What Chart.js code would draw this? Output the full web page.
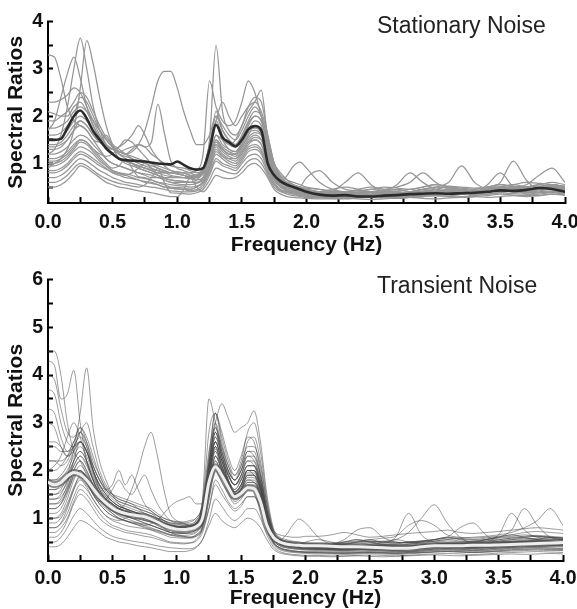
<!DOCTYPE html>
<html><head><meta charset="utf-8">
<script src="https://cdn.jsdelivr.net/npm/chart.js@4.4.0/dist/chart.umd.min.js"></script>
<style>
html,body{margin:0;padding:0;background:#fff;}
#wrap{position:relative;width:577px;height:609px;overflow:hidden;background:#fff;}
#c1{position:absolute;left:0;top:0;}
#c2{position:absolute;left:0;top:258px;}
.ttl{position:absolute;font-family:"Liberation Sans",Arial,sans-serif;font-size:23px;color:#222;line-height:23px;white-space:nowrap;}
</style></head><body>
<div id="wrap">
<canvas id="c1" width="577" height="258"></canvas>
<canvas id="c2" width="577" height="351"></canvas>
<div class="ttl" style="left:377px;top:14px">Stationary Noise</div>
<div class="ttl" style="left:377px;top:274px">Transient Noise</div>
</div>
<script>
// Frequency grid (Hz)
const freqHz = [0,0.05,0.1,0.15,0.2,0.25,0.3,0.35,0.4,0.45,0.5, 0.55,0.6,0.65,0.7,0.75,0.8,0.85,0.9,0.95,1.0, 1.05,1.1,1.15,1.2,1.25,1.3,1.35,1.4,1.45,1.5, 1.55,1.6,1.65,1.7,1.75,1.8,1.85,1.9,1.95,2.0, 2.1,2.2,2.3,2.4,2.5,2.6,2.7,2.8,2.9,3.0,3.1,3.2,3.3,3.4,3.5,3.6,3.7,3.8,3.9,4.0];
const xTickLabels = ['0.0','0.5','1.0','1.5','2.0','2.5','3.0','3.5','4.0'];

// ---- Stationary noise: mean and individual spectral ratios ----
const stationaryMean = [1.5,1.5,1.52,1.75,2.0,2.12,1.95,1.68,1.5,1.32,1.2, 1.1,1.07,1.06,1.05,1.04,1.02,1.0,.99,.98,1.04, .97,.9,.87,.9,1.3,1.82,1.55,1.45,1.36,1.5, 1.72,1.79,1.7,1.0,.75,.62,.55,.5,.45,.4, .34,.32,.33,.3,.3,.32,.33,.35,.36,.37,.36,.37,.38,.4,.43,.42,.44,.48,.46,.4];
const s01 = [3.3,3.25,2.8,2.2,1.9,1.8,1.7,1.5,1.3,1.1,1.0, .95,.9,.85,.8,.75,.7,.7,.65,.6,.6, .6,.6,.65,.8,1.1,1.4,1.3,1.2,1.15,1.3, 1.5,1.6,1.5,1.1,.7,.55,.45,.4,.38,.35, .3,.35,.4,.35,.3,.3,.35,.4,.45,.4,.35,.35,.4,.45,.5,.45,.4,.45,.5,.45];
const s02 = [1.2,1.3,1.6,2.2,3.0,3.65,3.0,2.2,1.7,1.4,1.2, 1.1,1.0,.95,.9,.85,.8,.75,.7,.65,.63, .62,.6,.6,.7,1.2,1.8,1.5,1.3,1.25,1.4, 1.7,1.9,1.8,1.3,.8,.6,.5,.45,.4,.38, .35,.3,.3,.35,.4,.35,.3,.35,.4,.38,.35,.4,.45,.5,.45,.4,.42,.48,.45,.4];
const s03 = [.9,1.0,1.1,1.3,1.7,2.6,3.6,3.1,2.4,1.8,1.4, 1.2,1.1,1.0,.9,.85,.8,.75,.7,.7,.7, .7,.68,.65,.7,1.0,1.5,1.3,1.2,1.2,1.35, 1.6,1.8,1.75,1.3,.8,.6,.5,.45,.42,.4, .38,.4,.35,.32,.3,.35,.4,.38,.35,.4,.45,.4,.38,.42,.5,.55,.5,.45,.5,.48];
const s04 = [1.7,1.9,2.4,2.9,3.25,2.8,2.2,1.8,1.5,1.3,1.2, 1.1,1.05,1.0,.95,.9,.85,.8,.8,.75,.72, .7,.7,.72,.8,1.2,1.9,1.6,1.4,1.35,1.5, 1.8,2.0,1.9,1.4,.9,.65,.55,.5,.48,.45, .4,.35,.3,.3,.35,.4,.35,.3,.35,.4,.4,.38,.35,.4,.45,.42,.4,.45,.5,.42];
const s05 = [1.35,1.35,1.4,1.5,1.7,1.9,1.8,1.6,1.45,1.35,1.3, 1.25,1.2,1.25,1.4,1.7,2.2,2.75,2.95,2.95,2.6, 2.1,1.7,1.4,1.4,1.6,2.0,1.8,1.6,1.5,1.7, 2.0,2.2,2.0,1.5,1.0,.75,.65,.6,.55,.5, .45,.4,.4,.45,.5,.45,.4,.38,.4,.45,.5,.48,.45,.5,.55,.5,.45,.5,.55,.5];
const s06 = [2.3,2.3,2.35,2.45,2.6,2.5,2.2,1.9,1.6,1.4,1.3, 1.25,1.3,1.35,1.4,1.35,1.45,2.25,1.65,1.05,.9, .85,.8,.75,.8,1.3,2.1,1.7,1.5,1.4,1.6, 1.9,2.1,2.0,1.5,1.0,.8,.65,.55,.5,.45, .4,.38,.35,.4,.45,.42,.38,.4,.45,.5,.48,.45,.42,.45,.5,.48,.45,.48,.52,.5];
const s07 = [1.9,1.9,2.0,2.1,2.3,2.5,2.4,2.1,1.8,1.55,1.4, 1.3,1.2,1.1,1.0,.95,.9,.85,.8,.8,.78, .75,.7,.75,.9,1.5,3.5,2.1,1.7,1.6,1.8, 2.2,2.4,2.3,1.6,1.0,.7,.55,.5,.45,.42, .38,.35,.4,.35,.3,.32,.35,.4,.38,.35,.4,.42,.4,.45,.48,.45,.42,.45,.48,.45];
const s08 = [1.75,1.75,1.8,1.9,2.1,2.2,2.1,1.9,1.7,1.5,1.35, 1.25,1.2,1.15,1.1,1.05,1.0,.95,.9,.85,.82, .8,.8,.85,1.2,2.75,2.2,1.9,1.8,1.9,2.3, 2.75,2.5,2.0,1.4,.9,.7,.6,.55,.5,.48, .45,.42,.4,.42,.45,.5,.48,.45,.5,.55,.52,.5,.48,.5,.55,.52,.5,.55,.6,.55];
const s09 = [1.6,1.6,1.65,1.8,2.0,2.4,2.3,2.0,1.7,1.5,1.35, 1.25,1.2,1.3,1.4,1.35,1.2,1.1,1.0,.95,.92, .9,.85,.8,.85,1.1,1.6,1.5,1.4,1.5,1.8, 2.1,2.3,2.55,1.5,.9,.7,.6,.5,.48,.45, .4,.45,.5,.45,.4,.38,.35,.38,.42,.45,.4,.38,.4,.45,.5,.48,.45,.5,.55,.5];
const s10 = [1.5,1.5,1.55,1.7,1.9,2.0,1.9,1.7,1.55,1.4,1.3, 1.2,1.15,1.1,1.05,1.0,.95,.9,.85,.8,.8, .8,.75,.75,.85,1.3,1.9,2.3,2.0,1.8,2.0, 2.2,2.3,2.1,1.6,1.0,.7,.55,.5,.45,.42, .4,.38,.35,.38,.4,.42,.45,.4,.38,.4,.42,.45,.42,.4,.45,.5,.48,.45,.5,.45];
const s11 = [1.4,1.4,1.45,1.6,1.8,1.9,1.8,1.6,1.45,1.35,1.3, 1.35,1.45,1.6,1.8,1.6,1.3,1.1,.95,.85,.82, .8,.75,.72,.8,1.1,1.5,1.35,1.25,1.2,1.35, 1.55,1.65,1.6,1.2,.8,.6,.5,.45,.42,.4, .35,.32,.3,.35,.4,.38,.35,.32,.35,.38,.4,.38,.35,.38,.42,.4,.38,.42,.45,.4];
const s12 = [1.3,1.3,1.35,1.5,1.7,1.8,1.7,1.5,1.45,1.6,1.35, 1.1,1.05,1.0,.95,.9,.85,.8,.75,.72,.71, .7,.68,.7,.8,1.1,1.6,1.4,1.3,1.25,1.45, 1.7,1.75,1.65,1.2,.75,.55,.45,.4,.38,.36, .32,.3,.28,.3,.32,.3,.28,.3,.32,.35,.33,.3,.32,.35,.38,.36,.35,.38,.4,.38];
const s13 = [1.2,1.2,1.25,1.35,1.5,1.6,1.55,1.4,1.25,1.1,1.0, .95,.9,.85,.8,.78,.75,.7,.68,.65,.63, .62,.6,.6,.7,1.0,1.4,1.25,1.15,1.1,1.25, 1.45,1.5,1.4,1.0,.7,.6,.75,.95,1.03,.9, .6,.45,.4,.38,.35,.33,.3,.32,.35,.38,.36,.35,.38,.4,.42,.4,.38,.4,.42,.4];
const s14 = [1.1,1.1,1.15,1.25,1.4,1.5,1.45,1.3,1.15,1.0,.9, .95,1.1,.9,.72,.7,.65,.6,.58,.55,.53, .52,.5,.52,.6,.9,1.3,1.15,1.05,1.0,1.15, 1.35,1.4,1.3,.95,.65,.5,.42,.38,.35,.32, .3,.28,.27,.28,.3,.28,.27,.28,.3,.32,.3,.28,.3,.32,.35,.33,.32,.35,.38,.35];
const s15 = [1.0,1.0,1.05,1.15,1.3,1.45,1.4,1.25,1.1,.95,.85, .8,.75,.7,.65,.62,.6,.55,.5,.48,.46, .45,.45,.5,.6,.85,1.2,1.1,1.0,.95,1.1, 1.3,1.35,1.25,.9,.6,.45,.4,.35,.32,.3, .28,.3,.32,.35,.32,.3,.28,.3,.33,.35,.4,.38,.35,.35,.38,.42,.4,.38,.4,.38];
const s16 = [.95,.95,1.0,1.1,1.25,1.35,1.3,1.2,1.05,.95,.85, .8,.78,.75,.7,.68,.65,.6,.55,.5,.49, .48,.45,.5,.62,.95,1.35,1.2,1.1,1.05,1.2, 1.4,1.5,1.4,1.0,.65,.5,.45,.42,.4,.38, .35,.4,.6,.8,.55,.4,.38,.4,.45,.5,.6,.95,.6,.45,.4,.42,.45,.48,.5,.45];
const s17 = [.85,.85,.9,1.0,1.15,1.25,1.2,1.1,1.0,.9,.8, .75,.7,.68,.65,.6,.58,.55,.5,.48,.46, .45,.42,.45,.55,.8,1.1,1.0,.95,.9,1.05, 1.25,1.3,1.2,.85,.55,.45,.4,.38,.36,.35, .33,.32,.3,.33,.35,.4,.55,.8,.6,.45,.4,.38,.4,.45,.6,1.05,.65,.45,.5,.48];
const s18 = [.7,.7,.75,.85,1.0,1.1,1.05,.95,.85,.78,.7, .65,.6,.58,.55,.52,.5,.48,.45,.42,.41, .4,.4,.42,.5,.75,1.05,.95,.9,.85,1.0, 1.15,1.2,1.1,.8,.55,.42,.38,.35,.33,.32, .3,.32,.35,.33,.3,.32,.35,.33,.35,.38,.4,.38,.42,.45,.5,.48,.55,.75,.9,.6];
const s19 = [.6,.6,.65,.75,.9,1.0,.95,.85,.75,.68,.62, .58,.55,.52,.5,.55,.7,.9,.6,.38,.37, .36,.35,.38,.45,.65,.9,.85,.8,.78,.9, 1.05,1.1,1.0,.75,.5,.4,.35,.32,.3,.28, .27,.26,.25,.27,.28,.27,.26,.28,.3,.32,.3,.28,.35,.55,.8,.5,.35,.32,.35,.33];
const s20 = [.5,.5,.55,.65,.8,.95,.9,.8,.7,.6,.55, .5,.48,.45,.42,.4,.38,.35,.32,.3,.3, .45,.7,.5,.4,.55,.75,.7,.68,.7,.8, .95,1.0,.9,.7,.45,.35,.3,.28,.27,.26, .25,.25,.26,.25,.24,.25,.27,.28,.26,.25,.27,.28,.3,.28,.3,.32,.3,.32,.35,.33];
const s21 = [1.05,1.05,1.1,1.2,1.35,1.5,1.45,1.3,1.2,1.15,1.2, 1.35,1.5,1.45,1.3,1.15,1.0,.9,.85,.8,.78, .75,.7,.7,.78,1.05,1.45,1.3,1.2,1.2,1.4, 1.65,1.7,1.6,1.15,.75,.55,.48,.45,.5,.7, .85,.6,.45,.42,.4,.45,.5,.6,.8,.6,.45,.42,.4,.42,.45,.48,.5,.52,.55,.5];
const s22 = [.8,.8,.85,.95,1.1,1.2,1.15,1.05,.95,.88,.82, .78,.75,.8,.9,1.0,.9,.75,.65,.6,.57, .55,.55,.58,.65,.9,1.25,1.15,1.1,1.1,1.25, 1.45,1.55,1.5,1.1,.7,.5,.45,.42,.4,.38, .36,.35,.34,.36,.38,.4,.42,.45,.5,.55,.5,.45,.42,.45,.5,.55,.6,.58,.55,.52];
const s23 = [2.1,2.05,2.0,2.0,2.2,2.3,2.1,1.8,1.55,1.35,1.2, 1.1,1.05,1.0,.95,.9,.88,.85,.82,.8,.78, .75,.72,.75,.9,1.4,2.0,1.7,1.5,1.4,1.55, 1.85,2.0,1.9,1.4,.85,.62,.52,.48,.45,.42, .4,.38,.36,.38,.4,.38,.36,.38,.4,.42,.44,.42,.4,.42,.45,.48,.5,.55,.52,.48];

// ---- Transient noise: mean and individual spectral ratios ----
const transientMean = [1.75,1.7,1.75,1.88,1.96,1.92,1.8,1.62,1.45,1.32,1.22, 1.14,1.1,1.07,1.05,1.03,.98,.92,.85,.8,.77, .76,.78,.82,1.0,1.75,2.08,1.9,1.65,1.45,1.52, 1.64,1.62,1.35,.85,.6,.5,.46,.44,.43,.42, .42,.41,.4,.4,.39,.38,.37,.37,.4,.42,.42,.42,.43,.43,.44,.45,.46,.47,.48,.49];
const t01 = [4.5,4.5,4.0,3.0,2.4,2.2,1.9,1.6,1.4,1.25,1.1, 1.0,.95,.9,.88,.85,.8,.75,.7,.65,.63, .62,.6,.65,.8,1.5,2.3,2.0,1.7,1.5,1.6, 1.8,1.75,1.5,1.0,.6,.45,.4,.38,.36,.35, .34,.33,.32,.33,.35,.34,.32,.3,.32,.35,.36,.35,.33,.35,.38,.4,.42,.4,.42,.44];
const t02 = [4.3,4.2,3.5,3.6,4.1,3.0,2.2,1.8,1.5,1.3,1.2, 1.1,1.05,1.0,.95,.9,.85,.8,.75,.7,.69, .68,.7,.75,.9,1.8,2.6,2.2,1.9,1.7,1.8, 2.0,1.9,1.6,1.0,.6,.48,.44,.42,.4,.38, .36,.35,.38,.4,.38,.36,.35,.37,.4,.42,.4,.38,.4,.42,.45,.44,.45,.48,.5,.48];
const t03 = [2.6,2.6,2.5,2.3,2.5,3.2,4.15,2.9,2.2,1.8,1.5, 1.3,1.2,1.1,1.05,1.0,.95,.9,.85,.8,.79, .78,.8,.85,1.0,2.0,3.0,2.5,2.0,1.8,2.0, 2.3,2.2,1.8,1.1,.65,.5,.45,.42,.4,.38, .36,.35,.34,.36,.38,.4,.38,.36,.38,.4,.42,.4,.38,.4,.42,.45,.48,.5,.52,.5];
const t04 = [4.0,3.9,3.3,2.8,2.7,2.9,2.6,2.1,1.8,1.6,1.45, 1.35,1.3,1.25,1.2,1.15,1.1,1.0,.9,.85,.82, .8,.8,.85,1.1,2.2,3.2,2.8,2.3,2.0,2.3, 2.7,2.6,2.0,1.2,.7,.55,.5,.48,.46,.45, .44,.45,.5,.55,.5,.45,.44,.46,.5,.55,.6,.55,.5,.52,.55,.58,.6,.62,.6,.58];
const t05 = [3.7,3.6,3.0,2.6,2.5,2.6,2.4,2.0,1.7,1.5,1.35, 1.25,1.2,1.15,1.1,1.05,1.0,.95,.9,.85,.83, .82,.82,.9,1.1,2.1,2.9,2.5,2.1,1.8,2.0, 2.4,2.3,1.9,1.2,.7,.55,.5,.45,.42,.4, .4,.42,.45,.42,.4,.42,.45,.5,.48,.45,.44,.46,.48,.5,.52,.55,.58,.55,.52,.5];
const t06 = [3.3,3.2,2.7,2.4,2.5,2.8,3.0,2.5,2.0,1.7,1.5, 1.4,1.35,1.3,1.25,1.2,1.15,1.05,.95,.88,.86, .85,.85,.9,1.2,2.3,3.2,2.7,2.2,1.9,2.1, 2.5,2.5,2.1,1.3,.75,.58,.52,.5,.48,.46, .45,.44,.46,.5,.52,.5,.48,.5,.52,.55,.58,.56,.54,.55,.58,.6,.62,.64,.62,.6];
const t07 = [2.0,2.0,2.1,2.3,2.6,2.8,2.6,2.2,1.9,1.6,1.45, 1.35,1.3,1.25,1.2,1.15,1.1,1.05,1.0,.95,.92, .9,.92,1.0,1.3,2.4,3.0,3.4,3.1,2.8,2.9, 3.0,3.25,2.6,1.5,.8,.6,.55,.52,.5,.48, .46,.45,.48,.5,.52,.5,.48,.5,.52,.55,.6,.58,.55,.58,.6,.62,.65,.62,.6,.58];
const t08 = [1.8,1.8,1.9,2.1,2.4,2.6,2.4,2.0,1.7,1.5,1.35, 1.25,1.2,1.15,1.1,1.05,1.0,.95,.9,.85,.83, .82,.85,.95,1.4,3.5,3.0,2.4,2.0,1.8,2.1, 2.6,2.7,2.2,1.3,.7,.55,.5,.48,.45,.44, .42,.4,.42,.45,.48,.46,.44,.45,.48,.5,.52,.5,.48,.5,.52,.55,.56,.58,.56,.55];
const t09 = [1.6,1.6,1.7,1.9,2.2,2.4,2.2,1.9,1.6,1.4,1.3, 1.2,1.15,1.1,1.05,1.0,.95,.9,.85,.8,.79, .78,.8,.9,1.3,2.8,3.2,2.6,2.1,1.9,2.2, 2.8,3.0,2.4,1.4,.75,.55,.5,.46,.44,.42, .4,.38,.4,.42,.44,.42,.4,.42,.44,.46,.48,.46,.45,.46,.48,.5,.52,.54,.52,.5];
const t10 = [1.5,1.5,1.6,1.9,2.4,2.8,2.5,2.0,1.6,1.4,1.25, 1.2,1.3,1.6,2.0,2.5,2.8,2.3,1.6,1.1,.95, .9,.85,.9,1.2,2.2,2.8,2.3,1.9,1.7,1.9, 2.2,2.2,1.8,1.1,.65,.5,.46,.44,.42,.4, .38,.36,.38,.4,.42,.4,.38,.4,.42,.45,.48,.46,.44,.45,.48,.5,.52,.5,.48,.46];
const t11 = [1.3,1.3,1.4,1.7,2.2,2.6,2.4,2.0,1.7,1.6,1.7, 2.0,1.7,1.9,1.6,1.3,1.15,1.05,.95,.85,.82, .8,.78,.82,1.1,2.0,2.6,2.2,1.8,1.6,1.8, 2.1,2.1,1.7,1.05,.6,.48,.44,.42,.4,.38, .36,.35,.36,.38,.4,.38,.36,.38,.4,.42,.44,.42,.4,.42,.44,.46,.48,.5,.48,.46];
const t12 = [1.2,1.2,1.3,1.6,2.0,2.2,2.0,1.7,1.45,1.3,1.2, 1.1,1.05,1.0,.98,.95,.92,.88,.84,.8,.79, .78,.78,.82,1.0,1.8,2.4,2.0,1.7,1.5,1.6, 1.9,1.9,1.6,1.0,.6,.46,.42,.4,.38,.36, .35,.34,.33,.34,.35,.34,.33,.34,.36,.38,.4,.38,.36,.38,.4,.42,.44,.45,.44,.42];
const t13 = [1.0,1.0,1.1,1.4,1.8,2.0,1.8,1.5,1.3,1.15,1.05, 1.0,.95,.92,.9,.88,.85,.8,.75,.7,.69, .68,.68,.72,.9,1.6,2.2,1.9,1.6,1.4,1.5, 1.75,1.75,1.5,.95,.55,.42,.38,.36,.34,.33, .32,.31,.3,.31,.32,.31,.3,.31,.33,.35,.36,.35,.34,.35,.37,.39,.4,.42,.41,.4];
const t14 = [.9,.9,1.0,1.25,1.6,1.8,1.65,1.4,1.2,1.05,.95, .9,.85,.82,.8,.78,.75,.7,.65,.6,.59, .58,.58,.62,.8,1.4,2.0,1.75,1.5,1.3,1.4, 1.6,1.6,1.35,.85,.5,.38,.34,.32,.3,.29, .28,.27,.27,.28,.29,.28,.27,.28,.3,.32,.33,.32,.31,.32,.34,.36,.37,.38,.37,.36];
const t15 = [.7,.7,.8,1.0,1.35,1.6,1.5,1.3,1.1,.95,.85, .8,.75,.72,.7,.68,.65,.6,.55,.5,.49, .48,.48,.52,.7,1.2,1.8,1.6,1.35,1.2,1.3, 1.45,1.45,1.2,.75,.45,.34,.3,.28,.27,.26, .25,.25,.24,.25,.26,.25,.24,.25,.27,.29,.3,.29,.28,.29,.31,.33,.34,.35,.34,.33];
const t16 = [.5,.5,.6,.8,1.05,1.2,1.1,.95,.8,.7,.62, .58,.55,.52,.5,.48,.45,.42,.4,.38,.37, .36,.36,.4,.55,.95,1.4,1.25,1.05,.95,1.05, 1.2,1.2,1.0,.65,.4,.3,.26,.24,.23,.22, .22,.21,.21,.22,.23,.22,.21,.22,.24,.25,.26,.25,.24,.25,.27,.28,.29,.3,.29,.28];
const t17 = [.4,.4,.45,.6,.8,.95,.9,.8,.7,.6,.55, .5,.48,.45,.42,.4,.38,.35,.32,.3,.3, .3,.32,.38,.55,.85,1.1,.95,.85,.8,.9, 1.0,.95,.8,.55,.35,.27,.24,.22,.21,.2, .2,.19,.2,.21,.2,.19,.2,.21,.22,.23,.22,.21,.22,.23,.24,.25,.24,.25,.26,.25];
const t18 = [2.2,2.2,2.1,2.2,2.5,2.7,2.5,2.1,1.8,1.55,1.4, 1.3,1.25,1.2,1.15,1.1,1.05,1.0,.95,.9,.88, .85,.85,.9,1.15,2.0,2.7,2.3,1.9,1.7,1.9, 2.2,2.1,1.7,1.05,.62,.5,.46,.44,.45,.5, .55,.5,.45,.5,.55,.5,.55,.7,1.0,1.28,.9,.6,.5,.52,.55,.58,.6,.62,.6,.58];
const t19 = [2.5,2.5,2.4,2.4,2.6,2.9,2.7,2.3,1.9,1.65,1.5, 1.4,1.35,1.3,1.2,1.1,1.05,1.0,.95,.9,.89, .88,.88,.95,1.2,2.1,2.8,2.4,2.0,1.8,2.0, 2.4,2.4,1.9,1.15,.65,.52,.48,.46,.44,.43, .42,.44,.46,.48,.5,.52,.5,.48,.5,.52,.55,.58,.6,.62,.65,.7,.8,.95,1.2,.85];
const t20 = [1.4,1.4,1.5,1.8,2.2,2.4,2.2,1.8,1.5,1.35,1.25, 1.15,1.1,1.05,1.0,.95,.92,.88,.84,.8,.79, .78,.8,.88,1.15,2.0,2.6,2.2,1.8,1.6,1.8, 2.1,2.1,1.75,1.1,.62,.5,.46,.44,.42,.42, .42,.45,.5,.55,.5,.48,.6,1.1,.65,.5,.48,.5,.52,.55,.6,.75,1.2,.85,.6,.55];
const t21 = [1.1,1.1,1.2,1.5,1.9,2.1,1.95,1.65,1.4,1.25,1.15, 1.1,1.05,1.0,.95,.9,.85,.8,.75,.7,.69, .68,.7,.75,.95,1.7,2.3,2.0,1.65,1.45,1.6, 1.85,1.85,1.5,.95,.6,.55,.65,.85,.98,.9, .6,.45,.42,.4,.42,.45,.48,.5,.52,.55,.6,.8,.9,.65,.5,.48,.5,.55,.6,.58];
const t22 = [.8,.8,.9,1.2,1.6,1.9,1.75,1.5,1.35,1.4,1.6, 1.8,1.6,1.5,1.7,1.9,1.6,1.3,1.1,.95,.9, .88,.85,.88,1.1,1.9,2.5,2.1,1.75,1.55,1.7, 2.0,2.0,1.65,1.0,.58,.46,.42,.4,.38,.37, .36,.38,.4,.42,.45,.5,.55,.5,.45,.42,.44,.46,.5,.55,.6,.65,.6,.55,.52,.5];
const t23 = [1.3,1.3,1.35,1.6,1.9,2.0,1.85,1.6,1.4,1.25,1.15, 1.05,1.0,.95,.9,.85,.88,.95,1.1,1.25,1.35, 1.4,1.45,1.3,1.3,2.0,2.6,2.2,1.8,1.55,1.7, 2.0,2.0,1.7,1.1,.62,.5,.45,.43,.42,.4, .38,.37,.36,.38,.4,.42,.4,.38,.4,.42,.44,.42,.4,.42,.45,.48,.5,.52,.5,.48];
const t24 = [.6,.6,.7,.95,1.3,1.5,1.4,1.2,1.0,.88,.8, .75,.7,.68,.65,.62,.6,.56,.52,.48,.47, .46,.48,.55,.8,1.7,2.8,2.3,1.8,1.5,1.6, 1.9,1.9,1.55,.9,.5,.38,.34,.32,.3,.3, .3,.29,.28,.29,.3,.29,.28,.29,.31,.33,.34,.33,.32,.33,.35,.37,.38,.39,.38,.37];
const t25 = [1.8,1.8,1.85,2.0,2.3,2.5,2.3,1.95,1.65,1.45,1.3, 1.2,1.15,1.1,1.05,1.0,.95,.9,.85,.8,.79, .78,.78,.85,1.05,1.7,2.2,1.9,1.6,1.45,1.55, 1.75,1.75,1.5,.95,.58,.46,.42,.4,.38,.37, .36,.35,.34,.35,.36,.35,.34,.36,.38,.4,.42,.4,.38,.4,.42,.44,.46,.48,.47,.46];
const t26 = [3.0,2.9,2.5,2.3,2.4,2.6,2.4,2.0,1.7,1.5,1.35, 1.25,1.2,1.15,1.1,1.05,1.0,.95,.9,.85,.83, .82,.82,.88,1.1,1.9,2.5,2.1,1.75,1.55,1.7, 2.0,2.0,1.65,1.05,.6,.48,.44,.42,.4,.39, .38,.37,.38,.4,.42,.44,.42,.4,.42,.44,.46,.48,.46,.48,.5,.52,.54,.56,.55,.54];
const t27 = [2.0,2.1,2.3,2.7,3.0,2.7,2.2,1.8,1.55,1.4,1.3, 1.2,1.15,1.1,1.05,1.0,.95,.9,.85,.8,.79, .78,.8,.88,1.15,2.1,2.9,2.4,1.95,1.7,1.9, 2.3,2.3,1.9,1.15,.65,.5,.46,.44,.42,.4, .38,.37,.36,.37,.38,.4,.42,.44,.42,.4,.42,.44,.46,.48,.5,.52,.5,.48,.5,.52];
const t28 = [.8,.8,.88,1.1,1.45,1.7,1.6,1.4,1.2,1.05,.98, .95,1.0,1.05,1.1,1.05,.98,.9,.8,.7,.65, .62,.6,.62,.75,1.2,1.7,1.5,1.3,1.15,1.25, 1.45,1.45,1.25,.8,.48,.36,.32,.3,.29,.28, .28,.27,.26,.27,.28,.27,.26,.27,.28,.3,.31,.3,.29,.3,.32,.34,.35,.36,.35,.34];
const t29 = [1.6,1.6,1.65,1.8,2.1,2.3,2.1,1.8,1.55,1.4,1.3, 1.2,1.15,1.1,1.05,1.0,.95,.9,.85,.82,.81, .8,.82,.88,1.1,1.9,2.5,2.1,1.75,1.55,1.7, 2.0,2.0,1.65,1.05,.6,.48,.45,.44,.43,.42, .42,.45,.55,.75,.8,.6,.5,.48,.5,.52,.55,.52,.5,.55,.65,1.1,.75,.6,.58,.56];
const t30 = [1.4,1.4,1.45,1.65,2.0,2.2,2.0,1.7,1.45,1.3,1.2, 1.12,1.08,1.05,1.02,1.0,.95,.9,.85,.8,.79, .78,.8,.86,1.08,1.85,2.4,2.05,1.7,1.5,1.65, 1.95,1.95,1.6,1.0,.6,.5,.48,.47,.46,.46, .46,.48,.5,.52,.55,.58,.62,.85,.95,.85,.65,.6,.58,.6,.62,.65,.7,.72,.7,.68];
const t31 = [1.2,1.2,1.3,1.55,1.85,2.0,1.85,1.55,1.35,1.2,1.1, 1.0,.95,.9,.85,.8,.76,.72,.68,.64,.62, .6,.6,.65,.85,1.55,2.1,1.85,1.55,1.35,1.45, 1.7,1.7,1.45,.9,.5,.38,.33,.3,.29,.28, .27,.27,.26,.27,.28,.27,.26,.27,.28,.29,.3,.29,.28,.29,.3,.31,.32,.33,.32,.32];
const t32 = [2.2,2.2,2.2,2.3,2.5,2.6,2.4,2.1,1.8,1.6,1.5, 1.45,1.4,1.35,1.3,1.25,1.2,1.1,1.0,.95,.93, .92,.95,1.0,1.25,2.1,2.7,2.3,1.9,1.7,1.85, 2.1,2.1,1.75,1.15,.75,.65,.62,.6,.6,.62, .62,.65,.7,.65,.6,.62,.65,.68,.7,.72,.75,.7,.68,.7,.72,.75,.78,.8,.78,.75];
const t33 = [1.0,1.0,1.05,1.3,1.65,1.85,1.75,1.5,1.3,1.15,1.05, .98,.94,.9,.86,.82,.78,.74,.7,.66,.65, .64,.65,.7,.9,1.6,2.3,2.0,1.7,1.5,1.6, 1.8,1.8,1.5,.95,.55,.42,.38,.36,.35,.34, .34,.33,.33,.34,.35,.34,.33,.34,.36,.38,.39,.38,.37,.38,.4,.42,.43,.44,.43,.42];
const t34 = [1.5,1.5,1.55,1.75,2.1,2.3,2.15,1.85,1.6,1.45,1.35, 1.25,1.2,1.15,1.1,1.05,1.0,.95,.88,.82,.8, .78,.78,.82,1.0,1.75,2.45,2.1,1.75,1.55,1.65, 1.9,1.9,1.6,1.0,.58,.46,.42,.41,.4,.4, .4,.4,.41,.42,.43,.42,.41,.42,.44,.46,.47,.46,.45,.46,.48,.5,.51,.52,.51,.5];

const stationaryCurves = [s01,s02,s03,s04,s05,s06,s07,s08,s09,s10,s11,s12,s13,s14,s15,s16,s17,s18,s19,s20,s21,s22,s23];
const transientCurves = [t01,t02,t03,t04,t05,t06,t07,t08,t09,t10,t11,t12,t13,t14,t15,t16,t17,t18,t19,t20,t21,t22,t23,t24,t25,t26,t27,t28,t29,t30,t31,t32,t33,t34];

const FONT = "'Liberation Sans', Arial, Helvetica, sans-serif";
const toPts = arr => arr.map((v, i) => ({x: freqHz[i], y: v}));

function makePanel(id, curves, mean, cfg) {
  // first dataset is painted last (on top)
  const datasets = [{data: toPts(mean), borderColor: cfg.meanColor, borderWidth: cfg.meanWidth}];
  if (cfg.haloColor) datasets.push({data: toPts(mean), borderColor: cfg.haloColor, borderWidth: cfg.haloWidth});
  curves.forEach(c => datasets.push({data: toPts(c), borderColor: cfg.lineColor, borderWidth: cfg.lineWidth}));
  return new Chart(document.getElementById(id), {
    type: 'line',
    data: {datasets},
    options: {
      responsive: false, animation: false, devicePixelRatio: 1,
      layout: {padding: {top: cfg.padTop, right: 0, left: 0, bottom: 0}},
      elements: {point: {radius: 0}, line: {cubicInterpolationMode: 'monotone', borderJoinStyle: 'round', borderCapStyle: 'round', fill: false}},
      plugins: {legend: {display: false}, tooltip: {enabled: false}},
      events: [],
      scales: {
        x: {
          type: 'linear', min: 0, max: 4,
          ticks: {stepSize: 0.25, autoSkip: false, maxRotation: 0, padding: cfg.xPad, color: '#111',
            font: {family: FONT, size: 19.5, weight: 'bold'},
            callback: v => { const k = Math.round(v * 2); return Math.abs(v * 2 - k) < 1e-6 ? xTickLabels[k] : ''; }},
          grid: {drawOnChartArea: false, drawTicks: true, tickLength: -6, tickColor: '#000', tickWidth: 2},
          border: {display: true, color: '#000', width: 2},
          title: {display: true, text: 'Frequency (Hz)', color: '#111', font: {family: FONT, size: 21, weight: 'bold', lineHeight: 1}, padding: {top: 0, bottom: cfg.xTitlePad}},
          afterFit: s => { s.height = cfg.xHeight; s.paddingRight = cfg.rightPad; s.paddingLeft = 0; }
        },
        y: {
          type: 'linear', min: cfg.yMin, max: cfg.yMax,
          ticks: {stepSize: 0.5, includeBounds: false, autoSkip: false, padding: 10, color: '#111',
            font: {family: FONT, size: 19.5, weight: 'bold'},
            callback: v => Number.isInteger(v) ? String(v) : ''},
          grid: {drawOnChartArea: false, drawTicks: true, tickLength: -5, tickColor: '#000', tickWidth: 2},
          border: {display: true, color: '#000', width: 2},
          title: {display: true, text: 'Spectral Ratios', color: '#111', font: {family: FONT, size: 21, weight: 'bold', lineHeight: 1}, padding: {top: 6, bottom: 0}},
          afterFit: s => { s.width = 48; }
        }
      }
    }
  });
}

makePanel('c1', stationaryCurves, stationaryMean, {
  meanColor: '#2b2b2b', meanWidth: 2.6, lineColor: 'rgb(150,150,150)', lineWidth: 1.25,
  padTop: 15, yMin: 0.163, yMax: 4, xHeight: 55, xPad: 14, xTitlePad: 2.5, rightPad: 12
});
makePanel('c2', transientCurves, transientMean, {
  meanColor: 'rgb(238,238,238)', meanWidth: 3, haloColor: 'rgba(80,80,80,0.65)', haloWidth: 7,
  lineColor: 'rgba(70,70,70,0.6)', lineWidth: 0.9,
  padTop: 14, yMin: 0.102, yMax: 6, xHeight: 48, xPad: 12, xTitlePad: 0, rightPad: 14
});
</script>
</body></html>
